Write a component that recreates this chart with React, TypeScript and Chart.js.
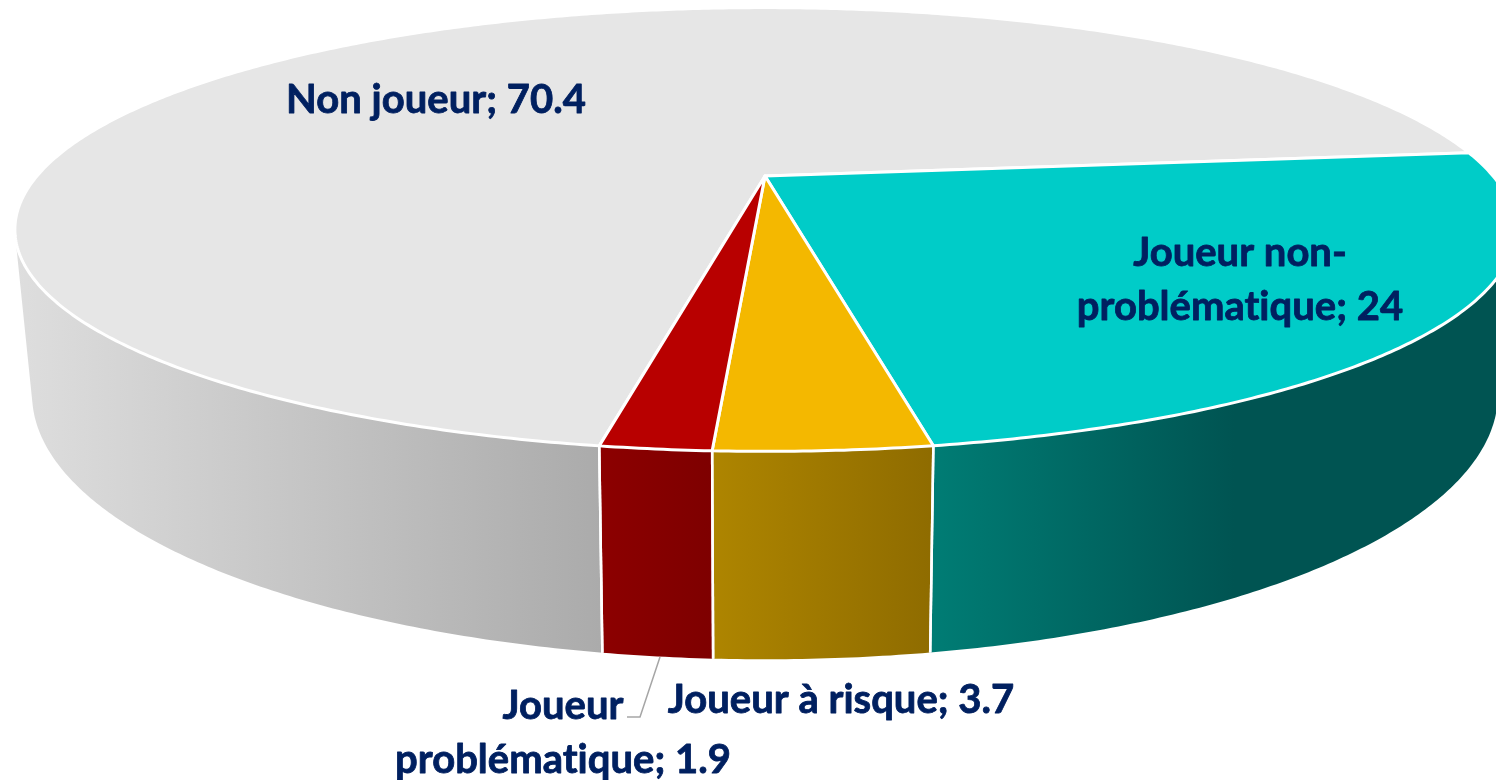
import React, { useEffect, useRef } from "react";
import { Chart, registerables } from "chart.js";

Chart.register(...registerables);

const categories = ["Non joueur", "Joueur non-problématique", "Joueur à risque", "Joueur problématique"];
const values = [70.4, 24, 3.7, 1.9];
const topColors = ["#E6E6E6", "#00CCC8", "#F4B800", "#B80000"];
const wallStops = [
  [[15, "#DEDEDE"], [600, "#ABABAB"]],
  [[935, "#007C74"], [1235, "#005452"], [1496, "#005452"]],
  [[713, "#AE8500"], [930, "#8F6C00"]],
  [[602, "#8C0000"], [712, "#7E0000"]],
];
const labelLines = [
  ["Non joueur; 70.4"],
  ["Joueur non-", "problématique; 24"],
  ["Joueur à risque; 3.7"],
  ["Joueur", "problématique; 1.9"],
];
const labelAnchors = [
  { x: 436, y: 113 },
  { x: 1240, y: 266 },
  { x: 841, y: 713 },
  { x: 563, y: 719 },
];

const TOP = { cx: 765, cy: 176, R: 728, S: 209, k: 0.241 };
const BOTTOM = { cx: 765, cy: 329.5, R: 710.6, S: 249, k: 0.245 };

function project(rim: typeof TOP, a: number): [number, number] {
  const X = Math.cos(a);
  const Y = Math.sin(a);
  const w = 1 - rim.k * Y;
  return [rim.cx + (rim.R * X) / w, rim.cy + (rim.S * Y) / w];
}

function sample(a0: number, a1: number): number[] {
  const n = Math.max(2, Math.ceil(Math.abs(a1 - a0) / (Math.PI / 360)));
  const out: number[] = [];
  for (let i = 0; i <= n; i++) out.push(a0 + ((a1 - a0) * i) / n);
  return out;
}

const pie3d = {
  id: "pie3d",
  beforeDatasetsDraw(chart: any) {
    const ctx = chart.ctx as CanvasRenderingContext2D;
    const arcs = chart.getDatasetMeta(0).data as any[];
    ctx.save();
    ctx.lineJoin = "round";

    // side wall: all strips of a slice go in one path, wound the same way, so they merge without seams
    arcs.forEach((arc, i) => {
      const angs = sample(arc.startAngle, arc.endAngle);
      const stops = wallStops[i] as [number, string][];
      const g = ctx.createLinearGradient(stops[0][0], 0, stops[stops.length - 1][0], 0);
      const span = stops[stops.length - 1][0] - stops[0][0];
      stops.forEach(([x, c]) => g.addColorStop((x - stops[0][0]) / span, c));
      ctx.fillStyle = g;
      ctx.beginPath();
      for (let j = 0; j + 1 < angs.length; j++) {
        const quad = [
          project(TOP, angs[j]),
          project(TOP, angs[j + 1]),
          project(BOTTOM, angs[j + 1]),
          project(BOTTOM, angs[j]),
        ];
        let area = 0;
        quad.forEach((p, n) => {
          const q = quad[(n + 1) % 4];
          area += p[0] * q[1] - q[0] * p[1];
        });
        if (area < 0) quad.reverse();
        quad.forEach((p, n) => (n === 0 ? ctx.moveTo(p[0], p[1]) : ctx.lineTo(p[0], p[1])));
        ctx.closePath();
      }
      ctx.fill("nonzero");
    });

    // wall separators, only on the front side
    ctx.strokeStyle = "#FFFFFF";
    ctx.lineWidth = 2.5;
    arcs.forEach((arc) => {
      [arc.startAngle, arc.endAngle].forEach((a: number) => {
        if (Math.sin(a) > 0.5) {
          const p = project(TOP, a);
          const q = project(BOTTOM, a);
          ctx.beginPath();
          ctx.moveTo(p[0], p[1]);
          ctx.lineTo(q[0], q[1]);
          ctx.stroke();
        }
      });
    });

    // top face
    arcs.forEach((arc, i) => {
      ctx.beginPath();
      ctx.moveTo(TOP.cx, TOP.cy);
      sample(arc.startAngle, arc.endAngle).forEach((a) => {
        const p = project(TOP, a);
        ctx.lineTo(p[0], p[1]);
      });
      ctx.closePath();
      ctx.fillStyle = topColors[i];
      ctx.fill();
      ctx.strokeStyle = "#FFFFFF";
      ctx.lineWidth = 3;
      ctx.stroke();
    });

    // leader line
    ctx.strokeStyle = "#A6A6A6";
    ctx.lineWidth = 1.5;
    ctx.beginPath();
    ctx.moveTo(660, 657);
    ctx.lineTo(640, 717);
    ctx.lineTo(627, 717);
    ctx.stroke();

    // labels
    ctx.fillStyle = "#002060";
    ctx.strokeStyle = "#002060";
    ctx.lineWidth = 0.8;
    ctx.font = "bold 40px Lato";
    (ctx as any).letterSpacing = "0.01px";
    ctx.textAlign = "center";
    ctx.textBaseline = "alphabetic";
    labelLines.forEach((lines, i) => {
      lines.forEach((line, j) => {
        ctx.fillText(line, labelAnchors[i].x, labelAnchors[i].y + j * 54);
        ctx.strokeText(line, labelAnchors[i].x, labelAnchors[i].y + j * 54);
      });
    });
    ctx.restore();
    return false;
  },
};

export default function App() {
  const ref = useRef<HTMLCanvasElement>(null);
  useEffect(() => {
    document.body.style.margin = "0";
    const chart = new Chart(ref.current as HTMLCanvasElement, {
      type: "pie",
      data: {
        labels: categories,
        datasets: [{ data: values, backgroundColor: topColors, borderColor: "#FFFFFF", borderWidth: 2.5 }],
      },
      options: {
        responsive: false,
        animation: false,
        rotation: 190,
        plugins: { legend: { display: false }, tooltip: { enabled: false } },
      },
      plugins: [pie3d],
    } as any);
    return () => chart.destroy();
  }, []);
  return <canvas ref={ref} width={1496} height={780} style={{ display: "block", background: "#FFFFFF" }} />;
}
